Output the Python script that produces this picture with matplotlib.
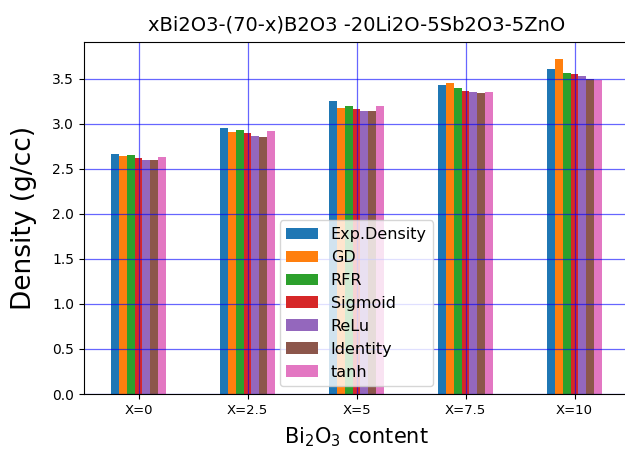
import matplotlib
matplotlib.use("Agg")
import matplotlib.pyplot as plt
import numpy as np

# Bi2O3 content groups
groups = ["X=0", "X=2.5", "X=5", "X=7.5", "X=10"]

# densities (g/cc)
exp_density = [2.67, 2.96, 3.26, 3.43, 3.61]
gd          = [2.64, 2.91, 3.18, 3.46, 3.72]
rfr         = [2.65, 2.93, 3.20, 3.40, 3.57]
sigmoid     = [2.62, 2.90, 3.17, 3.37, 3.55]
relu        = [2.60, 2.87, 3.14, 3.35, 3.53]
identity    = [2.60, 2.86, 3.14, 3.34, 3.50]
tanh        = [2.63, 2.92, 3.20, 3.35, 3.49]

series = [exp_density, gd, rfr, sigmoid, relu, identity, tanh]
labels = ["Exp.Density", "GD", "RFR", "Sigmoid", "ReLu", "Identity", "tanh"]
colors = ["#1f77b4", "#ff7f0e", "#2ca02c", "#d62728", "#9467bd", "#8c564b", "#e377c2"]

fig = plt.figure(figsize=(6.25, 4.49), dpi=100)
ax = fig.add_axes([84 / 625, 55 / 449, 545 / 625, 352 / 449])

x = np.arange(len(groups))
n = len(series)
w = 0.5 / n
for j, (vals, lab, col) in enumerate(zip(series, labels, colors)):
    ax.bar(x + (j - (n - 1) / 2) * w, vals, width=w, color=col, label=lab)

ax.set_xlim(-0.5, len(groups) - 0.5)
ax.set_ylim(0, 3.91)
ax.set_xticks(x)
ax.set_xticklabels(groups, rotation=0, fontsize=9.5, family="Liberation Sans Narrow")
ax.tick_params(axis="y", labelsize=10)

ax.grid(True, color="blue", alpha=0.6, linewidth=0.9)

ax.set_title("xBi2O3-(70-x)B2O3 -20Li2O-5Sb2O3-5ZnO", fontsize=14, pad=8)
ax.set_ylabel("Density (g/cc)", fontsize=19, labelpad=11)
ax.set_xlabel(r"Bi$_2$O$_3$ content", fontsize=15, family="Liberation Sans Narrow", labelpad=6)

ax.legend(loc="lower center", fontsize=11.5)

plt.savefig("out.png", dpi=100)
